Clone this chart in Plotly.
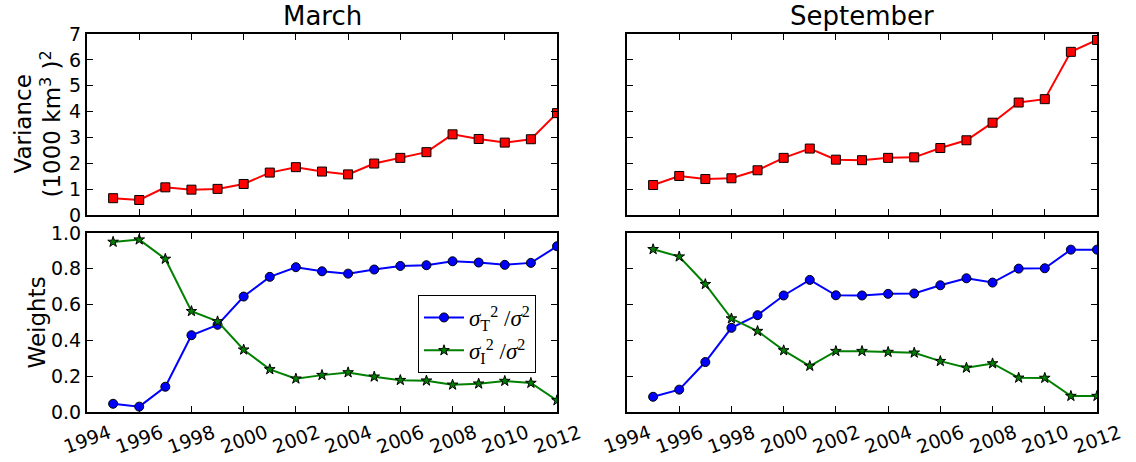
import plotly.graph_objects as go

years = list(range(1995, 2013))
tick_years = list(range(1994, 2013, 2))
tick_labels = [str(y) for y in tick_years]

var_march = [0.65, 0.58, 1.07, 0.98, 1.01, 1.20, 1.64, 1.85, 1.68, 1.57,
             1.99, 2.21, 2.43, 3.12, 2.94, 2.80, 2.93, 3.94]
var_sept = [1.16, 1.51, 1.39, 1.42, 1.73, 2.21, 2.57, 2.14, 2.12, 2.21,
            2.23, 2.59, 2.89, 3.57, 4.35, 4.48, 6.31, 6.77]

wT_march = [0.046, 0.030, 0.141, 0.429, 0.487, 0.645, 0.755, 0.809, 0.786, 0.773,
            0.796, 0.816, 0.820, 0.842, 0.835, 0.822, 0.833, 0.926]
wI_march = [0.950, 0.963, 0.855, 0.563, 0.506, 0.348, 0.238, 0.186, 0.206, 0.221,
            0.197, 0.178, 0.175, 0.152, 0.158, 0.173, 0.162, 0.065]
wT_sept = [0.085, 0.125, 0.279, 0.470, 0.541, 0.651, 0.738, 0.652, 0.651, 0.660,
           0.662, 0.708, 0.747, 0.723, 0.801, 0.803, 0.907, 0.907]
wI_sept = [0.909, 0.868, 0.714, 0.522, 0.452, 0.344, 0.257, 0.340, 0.340, 0.335,
           0.331, 0.284, 0.247, 0.271, 0.191, 0.190, 0.089, 0.089]

titles = ["March", "September"]
label_T = "<i>σ</i><sub>T</sub><sup>2</sup> /<i>σ</i><sup>2</sup>"
label_I = "<i>σ</i><sub>I</sub><sup>2</sup> /<i>σ</i><sup>2</sup>"

W, H = 1136, 462
L, R, T, B = 87, 39, 34, 50
pw, ph = W - L - R, H - T - B
xl = [0, (557 - L) / pw]
xr = [(627 - L) / pw, 1]
yt = [(H - B - 215) / ph, 1]
yb = [0, (H - B - 233) / ph]

FONT = "DejaVu Sans"
fig = go.Figure()

def add(x, y, ax, color, symbol, size, name=None, show=False):
    fig.add_trace(go.Scatter(
        x=x, y=y, xaxis="x" + ax, yaxis="y" + ax, mode="lines+markers",
        line=dict(color=color, width=2),
        marker=dict(symbol=symbol, size=size, color=color, line=dict(color="black", width=1)),
        name=name, showlegend=show))

add(years, var_march, "", "#ff0000", "square", 9)
add(years, var_sept, "2", "#ff0000", "square", 9)
add(years, wT_march, "3", "#0000ff", "circle", 9, label_T, True)
add(years, wI_march, "3", "#008000", "star", 8, label_I, True)
add(years, wT_sept, "4", "#0000ff", "circle", 9)
add(years, wI_sept, "4", "#008000", "star", 8)

def xax(domain, anchor):
    return dict(domain=domain, anchor=anchor, range=[1994, 2012], tickvals=tick_years,
                showticklabels=False, ticks="inside", ticklen=6, tickcolor="black", tickwidth=1,
                showline=True, linecolor="black", linewidth=2, mirror="ticks",
                showgrid=False, zeroline=False)

def yax(domain, anchor, rng, dt, fmt, labels):
    return dict(domain=domain, anchor=anchor, range=rng, dtick=dt, tick0=0, tickformat=fmt,
                showticklabels=labels, ticks="inside", ticklen=6, tickcolor="black", tickwidth=1,
                showline=True, linecolor="black", linewidth=2, mirror="ticks",
                showgrid=False, zeroline=False, tickfont=dict(size=19, color="black"))

annotations = []
for i, ttl in enumerate(titles):
    annotations.append(dict(text=ttl, xref="x%s domain" % ("" if i == 0 else "2"),
                            yref="y%s domain" % ("" if i == 0 else "2"), x=0.5, y=1,
                            xanchor="center", yanchor="bottom", yshift=1, showarrow=False,
                            font=dict(size=26, color="black")))
for ax in ["3", "4"]:
    for tv, tl in zip(tick_years, tick_labels):
        annotations.append(dict(text=tl, x=tv, xref="x" + ax, y=0, yref="y%s domain" % ax,
                                yshift=-6, xanchor="center", yanchor="top", textangle=-20,
                                showarrow=False, font=dict(size=19, color="black")))
annotations.append(dict(text="Variance<br>(1000 km<sup>3</sup> )<sup>2</sup>", xref="paper",
                        yref="y domain", x=(37 - L) / pw, y=0.5, xanchor="center",
                        yanchor="middle", textangle=-90, showarrow=False,
                        font=dict(size=23, color="black")))
annotations.append(dict(text="Weights", xref="paper", yref="y3 domain", x=(36 - L) / pw,
                        y=0.5, xanchor="center", yanchor="middle", textangle=-90,
                        showarrow=False, font=dict(size=23, color="black")))

fig.update_layout(
    width=W, height=H, margin=dict(l=L, r=R, t=T, b=B),
    paper_bgcolor="white", plot_bgcolor="white",
    font=dict(family=FONT, color="black"),
    xaxis=xax(xl, "y"), yaxis=yax(yt, "x", [0, 7], 1, "d", True),
    xaxis2=xax(xr, "y2"), yaxis2=yax(yt, "x2", [0, 7], 1, "d", False),
    xaxis3=xax(xl, "y3"), yaxis3=yax(yb, "x3", [0, 1], 0.2, ".1f", True),
    xaxis4=xax(xr, "y4"), yaxis4=yax(yb, "x4", [0, 1], 0.2, ".1f", False),
    legend=dict(x=(418 - L) / pw, y=(H - B - 295) / ph, xanchor="left", yanchor="top",
                bgcolor="white", bordercolor="black", borderwidth=1,
                font=dict(family="Liberation Serif", size=23, color="black"),
                tracegroupgap=0, itemwidth=40),
    annotations=annotations,
    showlegend=True,
)

fig.write_html("out.html")
